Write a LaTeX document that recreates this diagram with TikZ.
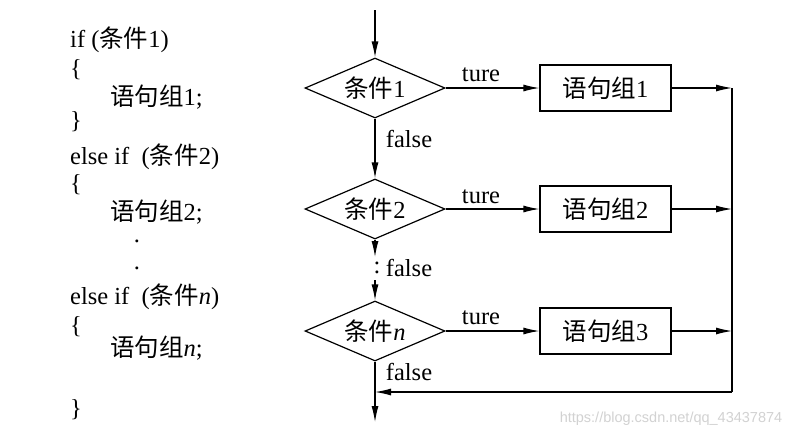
\documentclass[tikz,border=0pt]{standalone}
\usepackage{fontspec}
\setmainfont{Liberation Serif}
\newfontfamily\cjk{Noto Sans CJK SC}
\newfontfamily\wmfont{Liberation Sans}
\usetikzlibrary{shapes.geometric,arrows.meta}
\newcommand\zh[1]{{\cjk #1}}
\begin{document}
\begin{tikzpicture}[x=1pt,y=-1pt,
  every node/.style={font=\fontsize{24.5}{28}\selectfont},
  dec/.style={draw, diamond, aspect=2.33, minimum width=140pt, minimum height=60pt, inner sep=0pt, line width=1.2pt},
  blk/.style={draw, rectangle, minimum width=131pt, minimum height=46pt, inner sep=0pt, line width=1.2pt},
  line/.style={line width=1.2pt},
  arr/.style={line, -{Latex[length=16pt,width=7pt]}},
  code/.style={anchor=west, inner sep=0pt},
  lbl/.style={inner sep=0pt}]
\useasboundingbox (0,0) rectangle (802,440);
\fill[white] (0,0) rectangle (802,440);

% code on the left
\node[code] (c1) at (70,40) {if (\zh{条件}1)};
\node[code] (c2) at (70,70) {\{};
\node[code] (c3) at (110,97) {\zh{语句组}1;};
\node[code] (c4) at (70,122) {\}};
\node[code] (c5) at (70,157) {else if~ (\zh{条件}2)};
\node[code] (c6) at (70,185) {\{};
\node[code] (c7) at (110,212) {\zh{语句组}2;};
\node[lbl] (c8) at (137,241) {.};
\node[lbl] (c9) at (137,268) {.};
\node[code] (c10) at (70,297) {else if~ (\zh{条件}\textit{n})};
\node[code] (c11) at (70,327) {\{};
\node[code] (c12) at (110,348) {\zh{语句组}\textit{n};};
\node[code] (c13) at (70,410) {\}};

% flowchart
\node[dec] (d1) at (375,88) {\zh{条件}1};
\node[dec] (d2) at (375,209) {\zh{条件}2};
\node[dec] (d3) at (375,331) {\zh{条件}\textit{n}};
\node[blk] (b1) at (605.5,88) {\zh{语句组}1};
\node[blk] (b2) at (605.5,209) {\zh{语句组}2};
\node[blk] (b3) at (605.5,331) {\zh{语句组}3};

\coordinate (top) at (375,10);
\coordinate (m1) at (375,257);
\coordinate (m2) at (375,280);
\coordinate (r1) at (732,88);
\coordinate (r2) at (732,209);
\coordinate (r3) at (732,331);
\coordinate (rb) at (732,392);
\coordinate (lb) at (375,392);
\coordinate (bot) at (375,422);

\draw[arr] (top) -- (d1.north);
\draw[arr] (d1.south) -- (d2.north);
\draw[arr] (d2.south) -- (m1);
\draw[arr] (m2) -- (d3.north);
\draw[line] (d3.south) -- (lb);
\draw[arr] (lb) -- (bot);

\draw[arr] (d1.east) -- (b1.west);
\draw[arr] (d2.east) -- (b2.west);
\draw[arr] (d3.east) -- (b3.west);
\draw[arr] (b1.east) -- (r1);
\draw[arr] (b2.east) -- (r2);
\draw[arr] (b3.east) -- (r3);
\draw[line] (r1) -- (rb);
\draw[arr] (rb) -- (lb);

\node[lbl] (t1) at (481,75) {ture};
\node[lbl] (t2) at (481,197) {ture};
\node[lbl] (t3) at (481,318) {ture};
\node[lbl] (f1) at (409,139) {false};
\node[lbl] (f2) at (409,268) {false};
\node[lbl] (dots) at (377,268) {:};
\node[lbl] (f3) at (409,372) {false};

\node[lbl, text=gray!35, font=\wmfont\fontsize{14.5}{16}\selectfont] (wm) at (671,419) {https://blog.csdn.net/qq\_43437874};
\end{tikzpicture}
\end{document}
